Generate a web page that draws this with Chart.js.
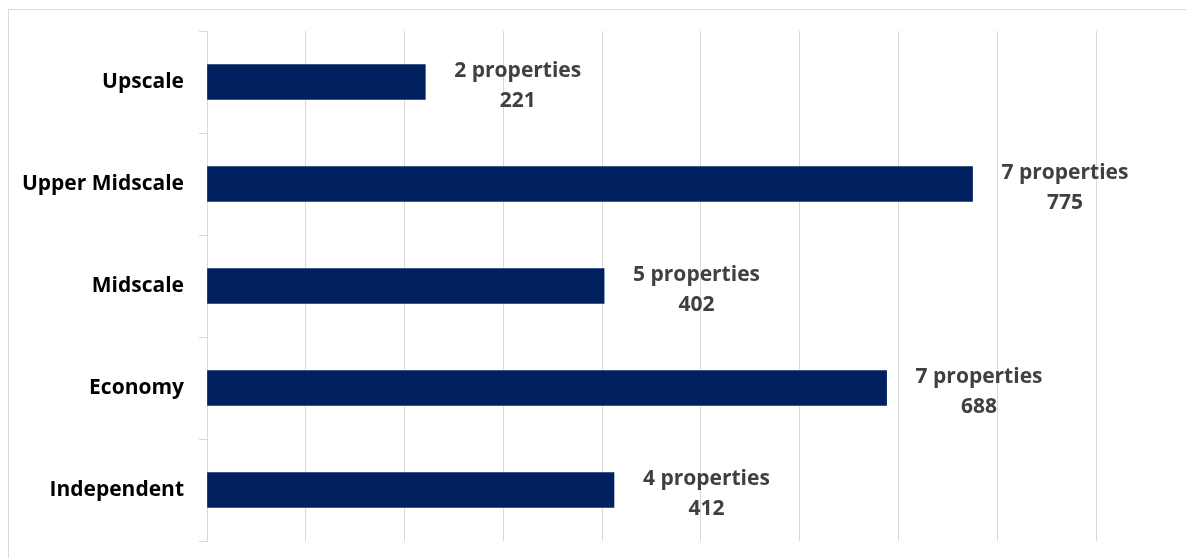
<!DOCTYPE html>
<html>
<head>
<meta charset="utf-8">
<script src="https://cdn.jsdelivr.net/npm/chart.js@4"></script>
<style>
  html, body { margin: 0; padding: 0; background: #fff; overflow: hidden; }
  #wrap { position: relative; width: 1186px; height: 558px; }
  #marco { position: absolute; left: 8px; top: 9px; width: 1300px; height: 700px; border: 1px solid #d9d9d9; }
  #grafico { position: absolute; left: 0; top: 0; }
</style>
</head>
<body>
<div id="wrap">
  <div id="marco"></div>
  <canvas id="grafico" width="1186" height="558"></canvas>
</div>
<script>
// Datos del gráfico
var categorias = ['Upscale', 'Upper Midscale', 'Midscale', 'Economy', 'Independent'];
var habitaciones = [221, 775, 402, 688, 412];
var propiedades = [2, 7, 5, 7, 4];
var ejeMax = 900;
var ejePaso = 100;

var fuente = '"Open Sans", "DejaVu Sans", sans-serif';

// Plugin para escribir las etiquetas de dos líneas al final de cada barra
var etiquetasBarras = {
    id: 'etiquetasBarras',
    afterDatasetsDraw: function(chart) {
        var ctx = chart.ctx;
        var meta = chart.getDatasetMeta(0);
        ctx.save();
        ctx.font = 'bold 21px ' + fuente;
        ctx.fillStyle = '#404040';
        ctx.textAlign = 'center';
        ctx.textBaseline = 'alphabetic';
        meta.data.forEach(function(barra, i) {
            var linea1 = propiedades[i] + ' properties';
            var linea2 = String(habitaciones[i]);
            var ancho = Math.max(ctx.measureText(linea1).width, ctx.measureText(linea2).width);
            var centroX = barra.x + 29 + ancho / 2;
            ctx.fillText(linea1, centroX, barra.y - 5);
            ctx.fillText(linea2, centroX, barra.y + 25);
        });
        ctx.restore();
    }
};

var ctxGrafico = document.getElementById('grafico').getContext('2d');
var grafico = new Chart(ctxGrafico, {
    type: 'bar',
    data: {
        labels: categorias,
        datasets: [{
            data: habitaciones,
            backgroundColor: '#002060',
            barThickness: 35
        }]
    },
    options: {
        indexAxis: 'y',
        responsive: false,
        animation: false,
        layout: { padding: { left: 0, right: 90, top: 31, bottom: 17 } },
        plugins: {
            legend: { display: false },
            tooltip: { enabled: false }
        },
        scales: {
            x: {
                min: 0,
                max: ejeMax,
                ticks: { display: false, stepSize: ejePaso },
                grid: { color: '#d9d9d9', lineWidth: 1, drawTicks: false },
                border: { display: false },
                afterFit: function(escala) { escala.height = 0; }
            },
            y: {
                grid: { offset: true, drawOnChartArea: false, color: '#d9d9d9', tickLength: 8 },
                border: { display: true, color: '#d9d9d9' },
                ticks: {
                    color: '#000000',
                    padding: 15,
                    font: { family: fuente, size: 21, weight: 'bold' }
                },
                afterFit: function(escala) {
                    escala.width = 207;
                    // quitamos el margen extra que Chart.js reserva para las etiquetas
                    escala.paddingTop = 0;
                    escala.paddingBottom = 0;
                }
            }
        }
    },
    plugins: [etiquetasBarras]
});
</script>
</body>
</html>
